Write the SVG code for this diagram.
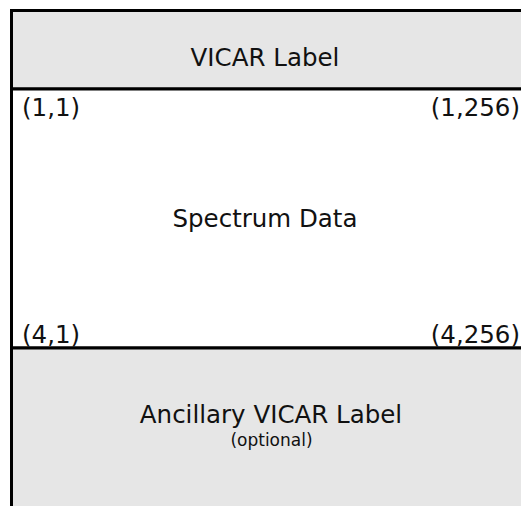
<svg xmlns="http://www.w3.org/2000/svg" width="521" height="506" viewBox="0 0 521 506">
<style>
.box{stroke:#000;stroke-width:3}
.gray{fill:#e6e6e6}
.white{fill:#fff}
text{font-family:"DejaVu Sans",Verdana,sans-serif;fill:#111}
.big{font-size:24.5px}
.small{font-size:17px}
</style>
<rect width="521" height="506" fill="#fff"/>
<g id="vicar-label">
<rect class="box gray" x="11.5" y="10.5" width="530" height="78.5"/>
<text class="big" x="265" y="66" text-anchor="middle">VICAR Label</text>
</g>
<g id="spectrum-data">
<rect class="box white" x="11.5" y="89" width="530" height="259"/>
<text class="big" x="22" y="116">(1,1)</text>
<text class="big" x="520" y="116" text-anchor="end">(1,256)</text>
<text class="big" x="265" y="227" text-anchor="middle">Spectrum Data</text>
<text class="big" x="22" y="343">(4,1)</text>
<text class="big" x="520" y="343" text-anchor="end">(4,256)</text>
</g>
<g id="ancillary-label">
<rect class="box gray" x="11.5" y="348" width="530" height="170"/>
<text class="big" x="271" y="423" text-anchor="middle">Ancillary VICAR Label</text>
<text class="small" x="271.5" y="446" text-anchor="middle">(optional)</text>
</g>
<g id="connectors"/>
</svg>
